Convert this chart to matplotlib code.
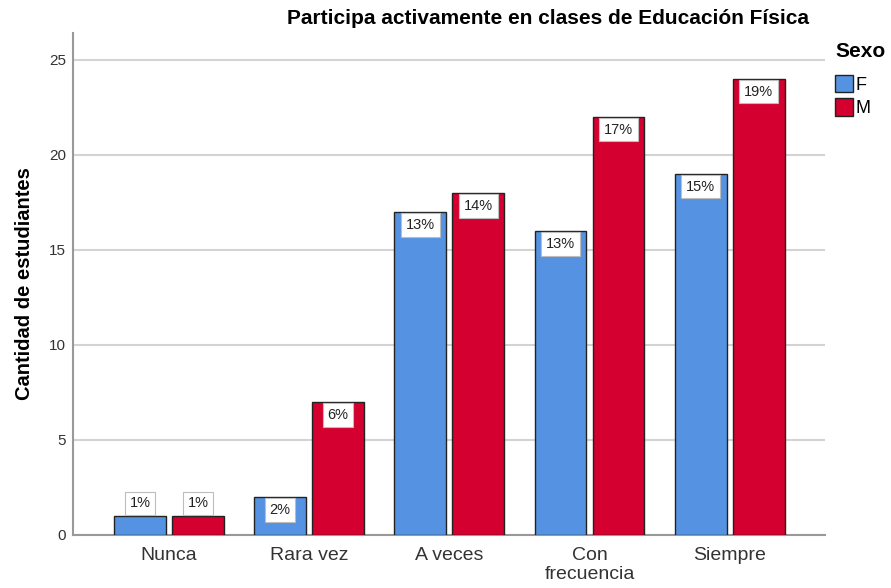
import matplotlib.pyplot as plt
import numpy as np
from matplotlib.patches import Patch

plt.rcParams['font.family'] = ['Liberation Sans', 'DejaVu Sans']

# Datos del gráfico
categorias = ["Nunca", "Rara vez", "A veces", "Con\nfrecuencia", "Siempre"]
valores_f = [1, 2, 17, 16, 19]
valores_m = [1, 7, 18, 22, 24]
etiquetas_f = ["1%", "2%", "13%", "13%", "15%"]
etiquetas_m = ["1%", "6%", "14%", "17%", "19%"]

color_f = "#5692e2"
color_m = "#d4002f"

fig = plt.figure(figsize=(8.91, 5.88), dpi=100)
ax = fig.add_axes([73 / 891, 53 / 588, 752 / 891, 502 / 588])

x = np.arange(len(categorias))
ancho = 0.37
desp = 0.207

barras_f = ax.bar(x - desp, valores_f, ancho, color=color_f, edgecolor="#222222", linewidth=1, zorder=3)
barras_m = ax.bar(x + desp, valores_m, ancho, color=color_m, edgecolor="#222222", linewidth=1, zorder=3)

ax.set_xlim(-0.685, 4.68)
ax.set_ylim(0, 26.4)
ax.set_yticks([0, 5, 10, 15, 20, 25])
ax.yaxis.grid(True, color="#d3d3d3", linewidth=1.5, zorder=0)
ax.set_axisbelow(True)

# Etiquetas de porcentaje
def poner_etiquetas(barras, etiquetas):
    for b, t in zip(barras, etiquetas):
        h = b.get_height()
        cx = b.get_x() + b.get_width() / 2
        caja = dict(boxstyle="square,pad=0.32", fc="white", ec="#bdbdbd", lw=0.8)
        if h >= 1.5:
            ax.annotate(t, (cx, h), xytext=(0, -4.4), textcoords="offset points",
                        ha="center", va="top", fontsize=10.5, color="#222222", zorder=5, bbox=caja)
        else:
            ax.annotate(t, (cx, h), xytext=(0, 4), textcoords="offset points",
                        ha="center", va="bottom", fontsize=10.5, color="#222222", zorder=5, bbox=caja)

poner_etiquetas(barras_f, etiquetas_f)
poner_etiquetas(barras_m, etiquetas_m)

ax.set_xticks(x)
ax.set_xticklabels(categorias, fontsize=14, color="#333333", linespacing=1.15)
ax.tick_params(axis="x", length=0, pad=9)
ax.tick_params(axis="y", length=0, labelsize=11, colors="#333333", pad=5)

for s in ["top", "right"]:
    ax.spines[s].set_visible(False)
ax.spines["left"].set_color("#999999")
ax.spines["bottom"].set_color("#999999")
ax.spines["left"].set_linewidth(1.5)
ax.spines["bottom"].set_linewidth(1.5)

ax.set_ylabel("Cantidad de estudiantes", fontsize=14.5, fontweight="bold", labelpad=11)
fig.text(548 / 891, 1 - 19 / 588, "Participa activamente en clases de Educación Física",
         ha="center", va="center", fontsize=15, fontweight="bold")

handles = [Patch(facecolor=color_f, edgecolor="#222222", label="F"),
           Patch(facecolor=color_m, edgecolor="#222222", label="M")]
leg = fig.legend(handles=handles, title="Sexo", loc="upper left",
                 bbox_to_anchor=(835 / 891, 1 - 42 / 588), frameon=False,
                 fontsize=13, handlelength=1.0, handleheight=1.1, handletextpad=0.15,
                 labelspacing=0.25, borderaxespad=0, borderpad=0)
leg.get_title().set_fontweight("bold")
leg.get_title().set_fontsize(15)
leg._legend_box.align = "left"
leg._legend_box.sep = 10

fig.savefig("out.png", dpi=100)
